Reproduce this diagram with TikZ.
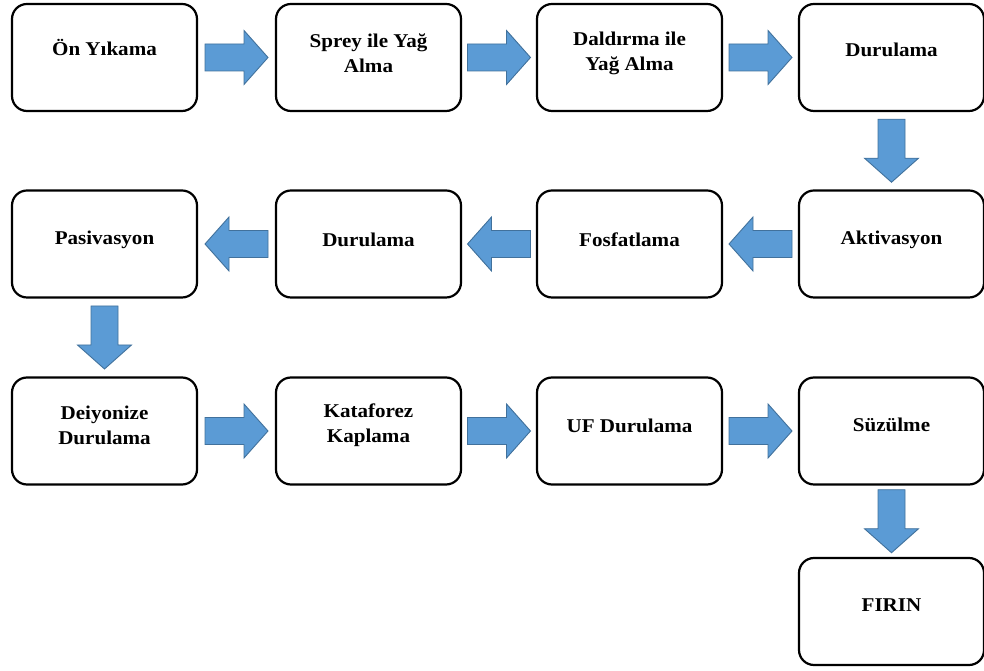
\documentclass[tikz,border=0pt]{standalone}
\usepackage{fontspec}
\setmainfont{Liberation Serif}[FakeStretch=1.08]
\usetikzlibrary{calc}
\definecolor{afill}{HTML}{5B9BD5}
\definecolor{aline}{HTML}{41719C}
\tikzset{
  box/.style={draw=black, line width=2.2pt, rounded corners=15pt, minimum width=185pt, minimum height=107pt, inner sep=0pt, fill=white},
  txt/.style={font=\bfseries\fontsize{19.5}{25}\selectfont, align=center, inner sep=0pt},
  blk/.style={fill=afill, draw=aline, line width=0.9pt, line join=miter}
}
\newcommand\blockarrow[3]{%
  \path ($(#1)!0.5!(#2)$) coordinate (arrowmid);
  \draw[blk, shift={(arrowmid)}, rotate=#3] (-31.5,-13.5) -- (7.5,-13.5) -- (7.5,-27) -- (31.5,0) -- (7.5,27) -- (7.5,13.5) -- (-31.5,13.5) -- cycle;
}
\begin{document}
\begin{tikzpicture}[x=1pt,y=1pt]
\useasboundingbox (0,0) rectangle (984,671);
% row 1
\node[box] (b1) at (104.5,613.5) {};
\node[box] (b2) at (368.5,613.5) {};
\node[box] (b3) at (629.5,613.5) {};
\node[box] (b4) at (891.5,613.5) {};
% row 2
\node[box] (b8) at (104.5,427) {};
\node[box] (b7) at (368.5,427) {};
\node[box] (b6) at (629.5,427) {};
\node[box] (b5) at (891.5,427) {};
% row 3
\node[box] (b9) at (104.5,240) {};
\node[box] (b10) at (368.5,240) {};
\node[box] (b11) at (629.5,240) {};
\node[box] (b12) at (891.5,240) {};
% row 4
\node[box] (b13) at (891.5,59.5) {};
% texts
\node[txt] (t1) at ($(b1)+(0,10)$) {Ön Yıkama};
\node[txt] (t2) at ($(b2)+(0,4)$) {Sprey ile Yağ\\Alma};
\node[txt] (t3) at ($(b3)+(0,4)$) {Daldırma ile\\Yağ Alma};
\node[txt] (t4) at ($(b4)+(0,8)$) {Durulama};
\node[txt] (t5) at ($(b5)+(0,4)$) {Aktivasyon};
\node[txt] (t6) at ($(b6)+(0,4)$) {Fosfatlama};
\node[txt] (t7) at ($(b7)+(0,4)$) {Durulama};
\node[txt] (t8) at ($(b8)+(0,4)$) {Pasivasyon};
\node[txt] (t9) at ($(b9)+(0,6)$) {Deiyonize\\Durulama};
\node[txt] (t10) at ($(b10)+(0,6)$) {Kataforez\\Kaplama};
\node[txt] (t11) at ($(b11)+(0,5)$) {UF Durulama};
\node[txt] (t12) at ($(b12)+(0,6)$) {Süzülme};
\node[txt] (t13) at ($(b13)+(0,6)$) {FIRIN};
% arrows
\blockarrow{b1.east}{b2.west}{0}
\blockarrow{b2.east}{b3.west}{0}
\blockarrow{b3.east}{b4.west}{0}
\blockarrow{b4.south}{b5.north}{-90}
\blockarrow{b5.west}{b6.east}{180}
\blockarrow{b6.west}{b7.east}{180}
\blockarrow{b7.west}{b8.east}{180}
\blockarrow{b8.south}{b9.north}{-90}
\blockarrow{b9.east}{b10.west}{0}
\blockarrow{b10.east}{b11.west}{0}
\blockarrow{b11.east}{b12.west}{0}
\blockarrow{b12.south}{b13.north}{-90}
\end{tikzpicture}
\end{document}
